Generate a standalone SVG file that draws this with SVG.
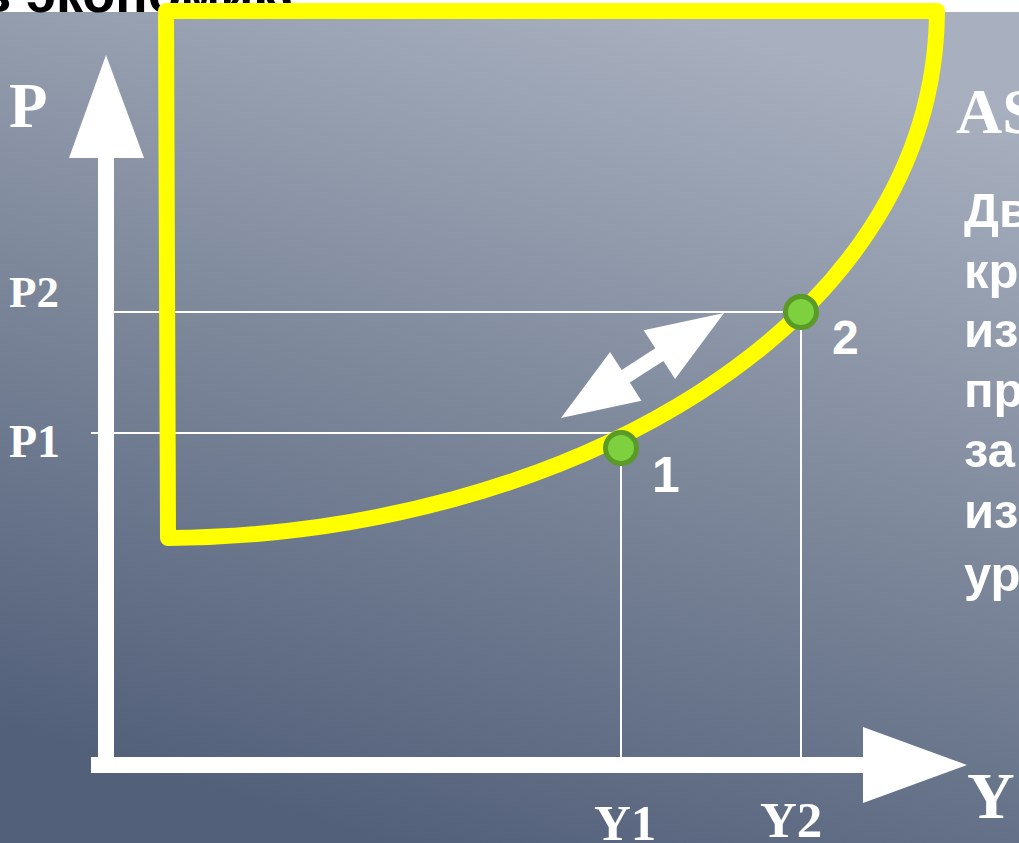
<svg xmlns="http://www.w3.org/2000/svg" width="1019" height="843" viewBox="0 0 1019 843">
<defs>
<linearGradient id="bg" gradientUnits="userSpaceOnUse" x1="640" y1="0" x2="380" y2="843">
<stop offset="0" stop-color="#a8b0bf"/>
<stop offset="0.5" stop-color="#7c879a"/>
<stop offset="1" stop-color="#53607a"/>
</linearGradient>
</defs>
<style>
.serif{font-family:"Liberation Serif","Times New Roman",serif;font-weight:bold;fill:#fff}
.sans{font-family:"Liberation Sans",Arial,sans-serif;font-weight:bold;fill:#fff}
.guide{stroke:#fff;stroke-width:2;fill:none}
.pt{fill:#7dd13f;stroke:#5a9a26;stroke-width:5}
</style>
<rect width="1019" height="843" fill="url(#bg)"/>
<rect width="1019" height="12" fill="#fff"/>
<text x="-22" y="12" font-family="Liberation Sans,Arial,sans-serif" font-weight="bold" font-size="54" fill="#000">в экономике</text>
<g id="axes">
<polygon points="106,55 69,158 144,158" fill="#fff"/>
<rect x="98" y="156" width="16" height="617" fill="#fff"/>
<rect x="91" y="757" width="774" height="16" fill="#fff"/>
<polygon points="967,765 863,727 863,803" fill="#fff"/>
</g>
<g id="connectors">
<line class="guide" x1="114" y1="312" x2="801" y2="312"/>
<line class="guide" x1="91" y1="433" x2="621" y2="433"/>
<line class="guide" x1="621" y1="448" x2="621" y2="757"/>
<line class="guide" x1="801" y1="312" x2="801" y2="757"/>
</g>
<g id="curve">
<path d="M168 538 L166 11 L937 11 C935 330 560 535 168 538 Z" fill="none" stroke="#ffff00" stroke-width="16" stroke-linejoin="round"/>
</g>
<g id="double-arrow">
<polygon transform="translate(561,418) rotate(-32.8)" points="0,0 77,-29 77,-7.5 117,-7.5 117,-29 194,0 117,29 117,7.5 77,7.5 77,29" fill="#fff"/>
</g>
<g id="point1">
<circle class="pt" cx="621" cy="448" r="15.5"/>
<text class="sans" x="652" y="492" font-size="50">1</text>
</g>
<g id="point2">
<circle class="pt" cx="801" cy="312" r="15.5"/>
<text class="sans" x="832" y="354" font-size="48">2</text>
</g>
<g id="labels">
<text class="serif" x="9" y="127" font-size="63">P</text>
<text class="serif" x="9" y="307" font-size="45">P2</text>
<text class="serif" x="9" y="457" font-size="46">P1</text>
<text class="serif" x="594" y="840" font-size="51">Y1</text>
<text class="serif" x="760" y="837" font-size="51">Y2</text>
<text class="serif" x="967" y="818" font-size="66">Y</text>
<text class="serif" x="956" y="133" font-size="64">AS</text>
</g>
<g id="desc">
<text class="sans" font-size="49" x="964"><tspan x="964" y="227">Дв</tspan><tspan x="964" y="288">кр</tspan><tspan x="964" y="347">из</tspan><tspan x="964" y="407">пр</tspan><tspan x="964" y="467">за</tspan><tspan x="964" y="528">из</tspan><tspan x="964" y="591">ур</tspan></text>
</g>
</svg>
